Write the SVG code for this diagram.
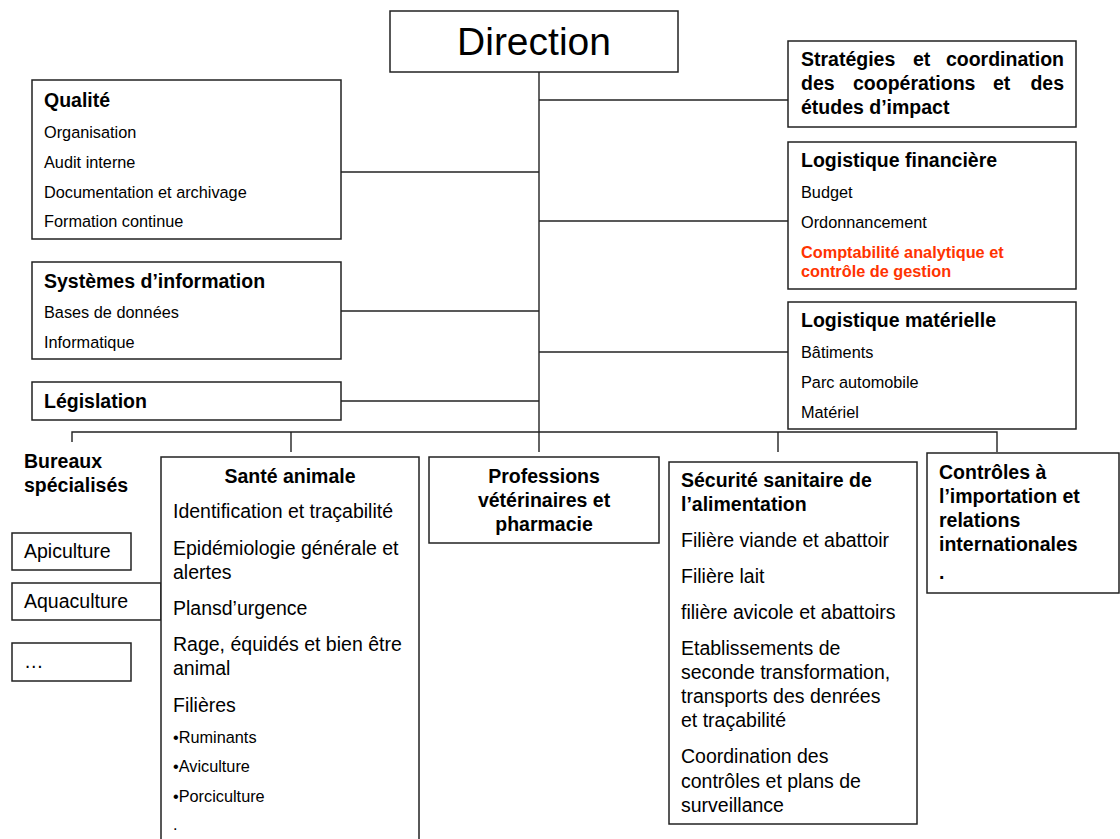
<svg xmlns="http://www.w3.org/2000/svg" width="1120" height="839" viewBox="0 0 1120 839">
<style>
.box{fill:#fff;stroke:#222;stroke-width:1.5}
.ln{stroke:#222;stroke-width:1.4;fill:none}
text{font-family:"Liberation Sans",Arial,sans-serif;fill:#000}
.t{font-size:19.5px;font-weight:bold}
.s{font-size:16.3px}
.r{font-size:16.3px;font-weight:bold;fill:#FF3300}
.m{font-size:19.5px}
.b{font-size:16.3px}
</style>
<rect width="1120" height="839" fill="#fff"/>
<g id="connectors">
<path class="ln" d="M539,72V452"/>
<path class="ln" d="M539,100H788"/>
<path class="ln" d="M341,172H539"/>
<path class="ln" d="M539,221H788"/>
<path class="ln" d="M341,311H539"/>
<path class="ln" d="M539,352H788"/>
<path class="ln" d="M341,401H539"/>
<path class="ln" d="M72,442V432H997V452"/>
<path class="ln" d="M291,432V452"/>
<path class="ln" d="M778,432V452"/>
</g>
<g id="direction">
<rect class="box" x="390" y="11" width="288" height="61"/>
<text x="534" y="55" text-anchor="middle" font-size="39">Direction</text>
</g>
<g id="qualite">
<rect class="box" x="32" y="80" width="309" height="159"/>
<text class="t" x="44" y="107">Qualité</text>
<text class="s" x="44" y="138">Organisation</text>
<text class="s" x="44" y="168">Audit interne</text>
<text class="s" x="44" y="198">Documentation et archivage</text>
<text class="s" x="44" y="227">Formation continue</text>
</g>
<g id="systemes">
<rect class="box" x="32" y="262" width="309" height="97"/>
<text class="t" x="44" y="288">Systèmes d’information</text>
<text class="s" x="44" y="318">Bases de données</text>
<text class="s" x="44" y="348">Informatique</text>
</g>
<g id="legislation">
<rect class="box" x="32" y="382" width="309" height="38"/>
<text class="t" x="44" y="408">Législation</text>
</g>
<g id="strategies">
<rect class="box" x="788" y="41" width="288" height="86"/>
<text class="t" x="801" y="66">Stratégies</text>
<text class="t" x="913" y="66">et</text>
<text class="t" x="1064" y="66" text-anchor="end">coordination</text>
<text class="t" x="801" y="90">des</text>
<text class="t" x="853" y="90">coopérations</text>
<text class="t" x="993" y="90">et</text>
<text class="t" x="1064" y="90" text-anchor="end">des</text>
<text class="t" x="801" y="114">études d’impact</text>
</g>
<g id="logistique-financiere">
<rect class="box" x="788" y="142" width="288" height="147"/>
<text class="t" x="801" y="167">Logistique financière</text>
<text class="s" x="801" y="198">Budget</text>
<text class="s" x="801" y="228">Ordonnancement</text>
<text class="r" x="801" y="258">Comptabilité analytique et</text>
<text class="r" x="801" y="277">contrôle de gestion</text>
</g>
<g id="logistique-materielle">
<rect class="box" x="788" y="302" width="288" height="127"/>
<text class="t" x="801" y="327">Logistique matérielle</text>
<text class="s" x="801" y="358">Bâtiments</text>
<text class="s" x="801" y="388">Parc automobile</text>
<text class="s" x="801" y="418">Matériel</text>
</g>
<g id="bureaux">
<text class="t" x="24" y="468">Bureaux</text>
<text class="t" x="24" y="492">spécialisés</text>
</g>
<g id="apiculture">
<rect class="box" x="12" y="533" width="119" height="37"/>
<text class="m" x="24" y="558">Apiculture</text>
</g>
<g id="aquaculture">
<rect class="box" x="12" y="583" width="149" height="37"/>
<text class="m" x="24" y="608">Aquaculture</text>
</g>
<g id="autres">
<rect class="box" x="12" y="643" width="119" height="38"/>
<text class="m" x="24" y="668">…</text>
</g>
<g id="sante-animale">
<rect class="box" x="161" y="457" width="258" height="400"/>
<text class="t" x="290" y="483" text-anchor="middle">Santé animale</text>
<text class="m" x="173" y="518">Identification et traçabilité</text>
<text class="m" x="173" y="555">Epidémiologie générale et</text>
<text class="m" x="173" y="579">alertes</text>
<text class="m" x="173" y="615">Plansd’urgence</text>
<text class="m" x="173" y="651">Rage, équidés et bien être</text>
<text class="m" x="173" y="675">animal</text>
<text class="m" x="173" y="712">Filières</text>
<text class="b" x="173" y="743">•Ruminants</text>
<text class="b" x="173" y="772">•Aviculture</text>
<text class="b" x="173" y="802">•Porciculture</text>
<text class="b" x="173" y="830">.</text>
</g>
<g id="professions">
<rect class="box" x="429" y="457" width="230" height="86"/>
<text class="t" x="544" y="483" text-anchor="middle">Professions</text>
<text class="t" x="544" y="507" text-anchor="middle">vétérinaires et</text>
<text class="t" x="544" y="531" text-anchor="middle">pharmacie</text>
</g>
<g id="securite">
<rect class="box" x="669" y="462" width="248" height="362"/>
<text class="t" x="681" y="487">Sécurité sanitaire de</text>
<text class="t" x="681" y="511">l’alimentation</text>
<text class="m" x="681" y="547">Filière viande et abattoir</text>
<text class="m" x="681" y="583">Filière lait</text>
<text class="m" x="681" y="619">filière avicole et abattoirs</text>
<text class="m" x="681" y="655">Etablissements de</text>
<text class="m" x="681" y="679">seconde transformation,</text>
<text class="m" x="681" y="703">transports des denrées</text>
<text class="m" x="681" y="727">et traçabilité</text>
<text class="m" x="681" y="763">Coordination des</text>
<text class="m" x="681" y="788">contrôles et plans de</text>
<text class="m" x="681" y="812">surveillance</text>
</g>
<g id="controles">
<rect class="box" x="927" y="453" width="192" height="140"/>
<text class="t" x="939" y="479">Contrôles à</text>
<text class="t" x="939" y="503">l’importation et</text>
<text class="t" x="939" y="527">relations</text>
<text class="t" x="939" y="551">internationales</text>
<text class="t" x="939" y="579">.</text>
</g>
</svg>
